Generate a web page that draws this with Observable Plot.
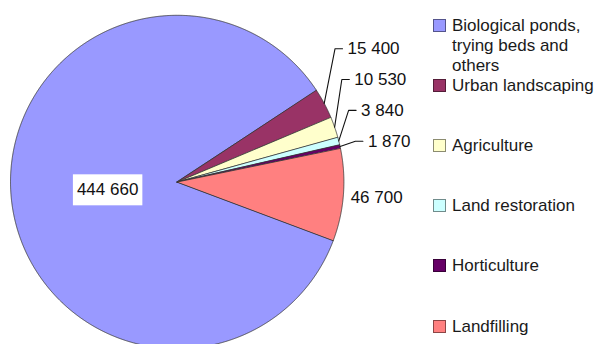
<!DOCTYPE html>
<html><head><meta charset="utf-8">
<script src="https://cdn.jsdelivr.net/npm/d3@7"></script>
<script src="https://cdn.jsdelivr.net/npm/@observablehq/plot@0.6"></script>
<style>
html,body{margin:0;padding:0;background:#fff;overflow:hidden;}
#wrap{position:relative;width:596px;height:344px;overflow:hidden;font-family:"Liberation Sans",Arial,sans-serif;}
#wrap svg{position:absolute;left:0;top:0;overflow:visible;}
#legend{position:absolute;left:433px;top:15.5px;}
.item{position:absolute;left:0;display:flex;align-items:flex-start;}
.sw{width:11px;height:11px;border:1px solid rgba(0,0,0,.45);margin-top:3px;flex:none;}
.lab{margin-left:6px;font-size:17px;line-height:20px;color:#1a1a1a;white-space:nowrap;}
</style></head><body><div id="wrap"><div id="legend"></div></div>
<script>
// ---- data ----
const categories = ["Biological ponds, trying beds and others", "Urban landscaping", "Agriculture", "Land restoration", "Horticulture", "Landfilling"];
const legendLines = [["Biological ponds,", "trying beds and", "others"], ["Urban landscaping"], ["Agriculture"], ["Land restoration"], ["Horticulture"], ["Landfilling"]];
const values = [444660, 15400, 10530, 3840, 1870, 46700];
const colors = ["#9999ff", "#993366", "#ffffcc", "#ccffff", "#660066", "#ff8080"];

// ---- layout constants ----
const W = 596, H = 344;
const cx = 176.7, cy = 181.5, R = 166.7;
const startAngle = 110.5 * Math.PI / 180;
const fontSize = 17;

const fmt = d3.formatLocale({decimal: ",", thousands: " ", grouping: [3], currency: ["", ""]}).format(",");
const data = categories.map((name, i) => ({name, value: values[i]}));
const total = d3.sum(values);
const arcs = d3.pie().sort(null).value(d => d.value).startAngle(startAngle).endAngle(startAngle + 2 * Math.PI)(data);

// slice polygons in unit pie coordinates
const step = Math.PI / 720;
const poly = [];
arcs.forEach(a => {
  const name = a.data.name;
  poly.push({name, x: 0, y: 0});
  const n = Math.max(2, Math.ceil((a.endAngle - a.startAngle) / step));
  for (let k = 0; k <= n; k++) {
    const t = a.startAngle + (a.endAngle - a.startAngle) * k / n;
    poly.push({name, x: Math.sin(t), y: Math.cos(t)});
  }
});

// labels
const inside = [], outside = [], leader = [], leaderLines = [];
const small = [];
arcs.forEach(a => {
  const mid = (a.startAngle + a.endAngle) / 2;
  const frac = a.data.value / total;
  const text = fmt(a.data.value);
  if (frac > 0.5) inside.push({x: 0.42 * Math.sin(mid), y: 0.42 * Math.cos(mid), text});
  else if (frac > 0.05) outside.push({x: 1.2 * Math.sin(mid), y: 1.2 * Math.cos(mid), text});
  else small.push({mid, text, name: a.data.name});
});
// declutter small labels, bottom to top
small.sort((p, q) => Math.cos(p.mid) - Math.cos(q.mid));
let prev = -Infinity;
small.forEach(s => {
  let y = Math.max(1.15 * Math.cos(s.mid), prev + 0.185);
  prev = y;
  const xt = 1.145 - 0.22 * (y - 0.24);
  leader.push({x: xt, y, text: s.text});
  leaderLines.push({name: s.name, x: Math.sin(s.mid), y: Math.cos(s.mid)});
  leaderLines.push({name: s.name, x: xt - 0.075, y});
  leaderLines.push({name: s.name, x: xt - 0.03, y});
});

const font = "Liberation Sans, Arial, sans-serif";
const plot = Plot.plot({
  width: W, height: H,
  style: {fontFamily: font, background: "transparent", overflow: "visible"},
  x: {domain: [-1, 1], range: [cx - R, cx + R], axis: null},
  y: {domain: [-1, 1], range: [cy + R, cy - R], axis: null},
  color: {domain: categories, range: colors},
  marks: [
    Plot.line(poly, {x: "x", y: "y", z: "name", fill: "name", stroke: "#333", strokeWidth: 0.8, strokeLinejoin: "miter", curve: "linear-closed"}),
    Plot.line(leaderLines, {x: "x", y: "y", z: "name", stroke: "#111", strokeWidth: 1.1, strokeLinejoin: "miter"}),
    Plot.text(inside, {x: "x", y: "y", text: "text", fontSize, fill: "#111", textAnchor: "middle", lineAnchor: "middle"}),
    Plot.text(outside, {x: "x", y: "y", text: "text", fontSize, fill: "#111", textAnchor: "middle", lineAnchor: "middle"}),
    Plot.text(leader, {x: "x", y: "y", text: "text", fontSize, fill: "#111", textAnchor: "start", lineAnchor: "middle"})
  ]
});
const wrap = document.getElementById("wrap");
wrap.insertBefore(plot, wrap.firstChild);

// white box behind the inside label
const insideTexts = new Set(inside.map(d => d.text));
plot.querySelectorAll("text").forEach(t => {
  if (!insideTexts.has(t.textContent)) return;
  const b = t.getBBox();
  const r = document.createElementNS("http://www.w3.org/2000/svg", "rect");
  const px = 4, py = 6;
  r.setAttribute("x", b.x - px); r.setAttribute("y", b.y - py);
  r.setAttribute("width", b.width + 2 * px); r.setAttribute("height", b.height + 2 * py);
  r.setAttribute("fill", "#fff");
  const tr = t.getAttribute("transform");
  if (tr) r.setAttribute("transform", tr);
  t.parentNode.insertBefore(r, t);
});

// legend
const legend = document.getElementById("legend");
categories.forEach((c, i) => {
  const item = document.createElement("div");
  item.className = "item";
  item.style.top = (i * 60.2) + "px";
  const sw = document.createElement("div");
  sw.className = "sw"; sw.style.background = colors[i];
  const lab = document.createElement("div");
  lab.className = "lab"; lab.innerHTML = legendLines[i].join("<br>");
  item.appendChild(sw); item.appendChild(lab);
  legend.appendChild(item);
});
</script></body></html>
